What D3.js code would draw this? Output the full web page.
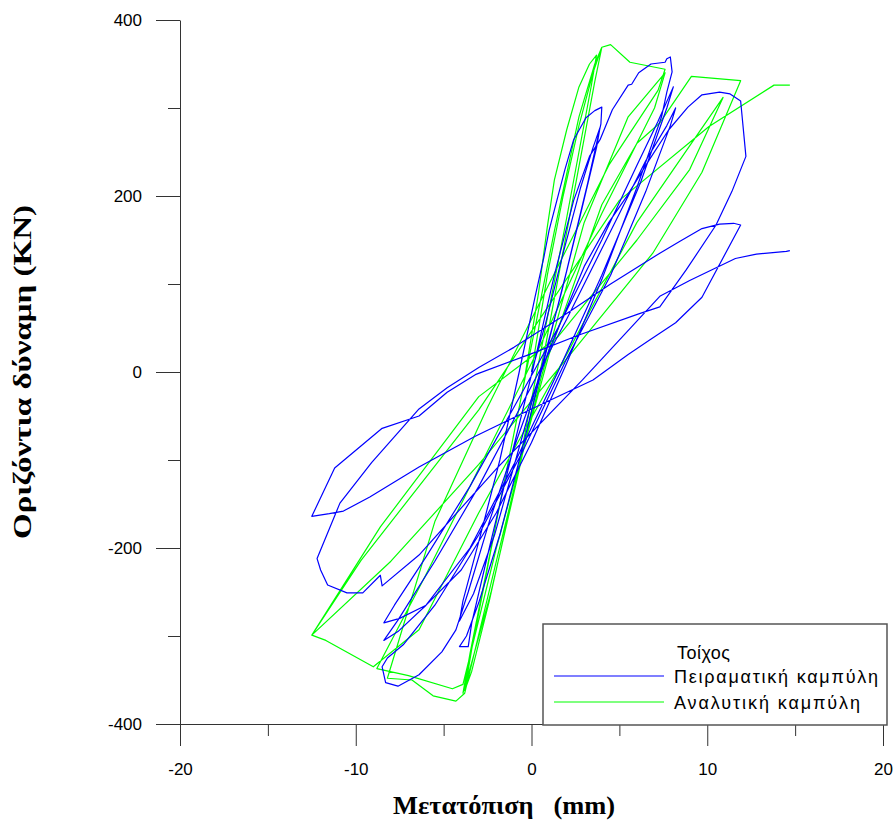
<!DOCTYPE html>
<html>
<head>
<meta charset="utf-8">
<script src="https://cdn.jsdelivr.net/npm/d3@7"></script>
<style>
  body { margin: 0; background: #fff; }
  svg { display: block; }
</style>
</head>
<body>
<svg id="chart" width="895" height="822"></svg>
<script>
// Experimental hysteresis curve (displacement mm, horizontal force kN)
const expDisp = [
  0, 0.8, 1.8, 2.8, 3.5, 3.9,
  3.7, 2.8, 1.7, 0.5, -0.9, -2.1, -3.3, -4.1,
  -3.9, -2.9, -1.8, -0.7, 0.2, 0.7, 1.0, 1.3, 1.9, 2.4, 3.1, 3.6, 4.0,
  3.95, 3.2, 2.0, 0.8, -0.5, -1.8, -3.0, -3.7, -4.1, -3.6,
  -3.4, -2.4, -1.2, 0.1, 1.3, 2.4, 3.3, 3.9, 4.6, 5.5, 5.7, 6.1, 6.8, 7.6, 7.7, 7.9,
  8.0, 7.7, 7.4, 6.0, 4.0, 2.0, 0.0, -2.0, -4.0, -6.0, -7.5, -8.4,
  -7.8, -6.0, -3.5, -1.0, 1.5, 4.0, 6.0, 7.2, 8.07,
  7.7, 6.2, 4.0, 1.5, -1.0, -3.5, -6.0, -7.6, -8.4,
  -7.6, -5.5, -3.0, -0.5, 2.0, 4.5, 6.5, 7.7, 8.2,
  7.9, 6.5, 4.5, 2.0, -0.5, -3.0, -5.5, -7.3, -8.2, -8.5, -8.3, -7.6, -6.4, -5.1, -4.3,
  -3.6, -2.4, -0.8, 1.0, 3.0, 4.4, 5.4, 6.7, 7.8, 8.9, 9.7, 10.7, 11.3, 11.9, 12.2,
  11.4, 10.5, 8.8, 7.3, 6.1, 2.7, -0.1, -3.2, -4.8, -6.4, -8.5, -11.2, -12.5,
  -11.5, -10.7, -9.2, -6.4, -3.2, 0.0, 3.5, 5.5, 6.7, 7.3, 8.2, 9.7, 11.9,
  11.5, 10.7, 9.7, 8.4, 7.3, 4.5, 1.6, -1.0, -3.0, -4.8, -6.4, -9.1, -10.9, -12.2,
  -12.0, -11.6, -10.5, -9.6, -8.6, -8.5,
  -6.4, -2.0, 2.9, 7.3, 9.0, 11.6, 12.8, 14.5, 14.7
];
const expForce = [
  0, 55, 135, 210, 255, 278,
  255, 180, 90, 0, -100, -185, -252, -283,
  -260, -185, -100, 0, 85, 130, 161, 184, 230, 264, 289, 297, 301,
  282, 215, 115, 20, -85, -185, -262, -300, -312, -312,
  -285, -200, -100, 5, 110, 195, 245, 264, 298, 326, 327, 340, 350, 352, 356, 358,
  341, 318, 290, 210, 105, 10, -80, -160, -225, -265, -280, -285,
  -265, -210, -130, -40, 50, 150, 235, 285, 324,
  300, 215, 110, 0, -105, -200, -265, -295, -305,
  -282, -215, -130, -35, 60, 160, 240, 280, 300,
  280, 205, 110, 15, -90, -185, -265, -310, -325, -335, -353, -357, -344, -318, -293,
  -250, -170, -75, 25, 120, 170, 199, 241, 275, 301, 315, 318, 316, 308, 245,
  205, 167, 116, 74, 66, 42, 20, -3, -23, -50, -64, -109, -164,
  -161, -158, -142, -108, -73, -42, -9, 20, 36, 44, 56, 85, 167,
  169, 168, 163, 148, 135, 100, 61, 28, 5, -18, -42, -103, -149, -212,
  -225, -242, -251, -251, -231, -243,
  -208, -110, -9, 86, 104, 129, 134, 137, 138
];

// Analytical hysteresis curve
const anaDisp = [
  0, 0.9, 1.8, 2.7, 3.5, 4.0,
  3.6, 2.2, 0.8, -0.8, -2.3, -3.4, -3.9,
  -3.5, -2.0, -0.5, 0.4, 0.9, 1.3, 2.0, 2.7, 3.3, 3.7,
  3.4, 2.0, 0.5, -1.0, -2.4, -3.4, -3.8,
  -3.4, -1.8, -0.2, 1.3, 2.7, 3.6, 4.0, 4.5, 5.6, 7.6,
  7.2, 4.4, 1.0, -2.5, -5.5, -8.2,
  -6.8, -5.6, -4.3, -3.8, -2.0, 0.5, 3.0, 5.5, 7.6,
  7.0, 4.0, 0.5, -3.0, -6.0, -8.8,
  -7.0, -4.5, -3.9, -2.0, 1.0, 4.0, 6.0, 7.3, 9.1, 11.9,
  9.7, 6.9, 2.0, -3.0, -8.0, -12.5,
  -11.7, -9.0, -6.4, -3.0, 2.0, 6.0, 10.9,
  9.0, 6.0, 1.5, -3.0, -8.6, -12.5,
  -9.7, -3.0, 5.0, 10.1, 13.8, 14.7
];
const anaForce = [
  0, 110, 200, 280, 340, 369,
  330, 180, 30, -120, -250, -330, -365,
  -320, -170, -20, 90, 165, 218, 275, 324, 350, 360,
  325, 175, 20, -135, -260, -340, -362,
  -315, -150, 10, 160, 290, 350, 369, 372, 352, 344,
  320, 235, 100, -40, -170, -348,
  -350, -368, -374, -365, -215, -10, 170, 290, 340,
  300, 180, 30, -110, -230, -337,
  -345, -360, -355, -200, 20, 190, 260, 283, 336, 331,
  227, 135, 15, -105, -215, -299,
  -305, -335, -293, -160, 20, 170, 312,
  230, 150, 40, -28, -176, -299,
  -214, -43, 195, 279, 326, 326
];

const yTicksMajor = [-400, -200, 0, 200, 400];
const yTicksMinor = [-300, -100, 100, 300];
const xTicksMajor = [-20, -10, 0, 10, 20];
const xTicksMinor = [-15, -5, 5, 15];

const legendTitle = "Τοίχος";
const seriesNames = ["Πειραματική καμπύλη", "Αναλυτική καμπύλη"];
const seriesColors = ["#0000ff", "#00ff00"];
const xTitle = "Μετατόπιση   (mm)";
const yTitle = "Οριζόντια δύναμη (KN)";

const svg = d3.select("#chart");
const x = d3.scaleLinear().domain([-20, 20]).range([180, 883]);
const y = d3.scaleLinear().domain([-400, 400]).range([724, 20]);

const axisColor = "#333";
const tickFont = "'Liberation Sans', Arial, sans-serif";
const titleFont = "'Liberation Serif', 'Times New Roman', serif";
const fmt = d => String(d); // plain hyphen for negatives

// Curves
const line = d3.line().x(d => x(d[0])).y(d => y(d[1]));
const expPts = expDisp.map((d, i) => [d, expForce[i]]);
const anaPts = anaDisp.map((d, i) => [d, anaForce[i]]);

svg.append("path").datum(anaPts)
  .attr("d", line).attr("fill", "none")
  .attr("stroke", seriesColors[1]).attr("stroke-width", 1.2)
  .attr("stroke-linejoin", "round");
svg.append("path").datum(expPts)
  .attr("d", line).attr("fill", "none")
  .attr("stroke", seriesColors[0]).attr("stroke-width", 1.2)
  .attr("stroke-linejoin", "round");

// Y axis
const gy = svg.append("g").attr("transform", `translate(${x(-20)},0)`);
gy.call(d3.axisLeft(y).tickValues(yTicksMajor).tickSize(24).tickSizeOuter(0).tickPadding(14).tickFormat(fmt));
const gy2 = svg.append("g").attr("transform", `translate(${x(-20)},0)`);
gy2.call(d3.axisLeft(y).tickValues(yTicksMinor).tickSize(12).tickSizeOuter(0).tickFormat(""));
gy2.select(".domain").remove();

// X axis
const gx = svg.append("g").attr("transform", `translate(0,${y(-400)})`);
gx.call(d3.axisBottom(x).tickValues(xTicksMajor).tickSize(22).tickSizeOuter(0).tickPadding(17).tickFormat(fmt));
const gx2 = svg.append("g").attr("transform", `translate(0,${y(-400)})`);
gx2.call(d3.axisBottom(x).tickValues(xTicksMinor).tickSize(12).tickSizeOuter(0).tickFormat(""));
gx2.select(".domain").remove();

svg.selectAll(".domain, .tick line").attr("stroke", axisColor).attr("stroke-width", 1);
svg.selectAll(".tick text")
  .attr("font-family", tickFont).attr("font-size", 17).attr("fill", "#000");

// Axis titles
svg.append("text")
  .attr("x", 504).attr("y", 814)
  .attr("text-anchor", "middle")
  .attr("font-family", titleFont)
  .attr("font-weight", "bold").attr("font-size", 25)
  .attr("textLength", 222).attr("lengthAdjust", "spacingAndGlyphs")
  .style("white-space", "pre")
  .text(xTitle);
svg.append("text")
  .attr("transform", "translate(31,372) rotate(-90)")
  .attr("text-anchor", "middle")
  .attr("font-family", titleFont)
  .attr("font-weight", "bold").attr("font-size", 25)
  .attr("textLength", 334).attr("lengthAdjust", "spacingAndGlyphs")
  .text(yTitle);

// Legend
const lg = svg.append("g");
lg.append("rect")
  .attr("x", 543).attr("y", 624).attr("width", 344).attr("height", 101)
  .attr("fill", "#fff").attr("stroke", "#555").attr("stroke-width", 1.5);
lg.append("text")
  .attr("x", 677).attr("y", 659)
  .attr("font-family", tickFont).attr("font-size", 18)
  .attr("textLength", 53).attr("lengthAdjust", "spacing")
  .text(legendTitle);
const rows = [676, 702];
const rowWidths = [204, 186];
rows.forEach((ry, i) => {
  lg.append("line")
    .attr("x1", 554).attr("x2", 664).attr("y1", ry).attr("y2", ry)
    .attr("stroke", seriesColors[i]).attr("stroke-width", 1.2);
  lg.append("text")
    .attr("x", 674).attr("y", ry + 7)
    .attr("font-family", tickFont).attr("font-size", 18)
    .attr("textLength", rowWidths[i]).attr("lengthAdjust", "spacing")
    .text(seriesNames[i]);
});
</script>
</body>
</html>
